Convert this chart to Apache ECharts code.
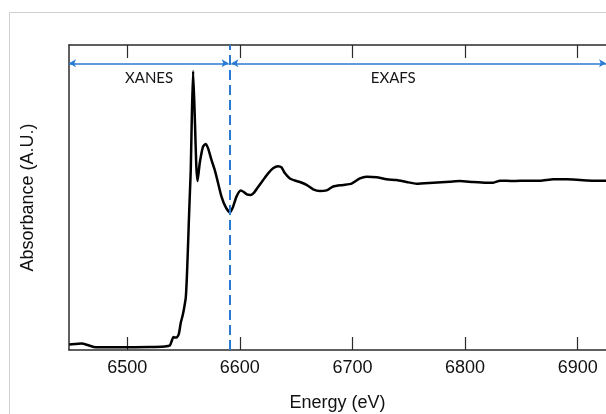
<!DOCTYPE html>
<html><head><meta charset="utf-8">
<script src="https://cdn.jsdelivr.net/npm/echarts@6/dist/echarts.min.js"></script>
<style>html,body{margin:0;padding:0;background:#fff}#c{width:606px;height:414px}</style>
</head><body><div id="c"></div>
<script>
const energy = [6448.5, 6453.4, 6459.6, 6464.9, 6470.2, 6475.6, 6493.3, 6520, 6533.3, 6537.8, 6539.5, 6540.9, 6542.2, 6544, 6545.8, 6547.5, 6549.3, 6550.6, 6552, 6552.9, 6553.8, 6554.6, 6555.5, 6556.4, 6557.3, 6558.5, 6560.2, 6561.3, 6562.4, 6564.4, 6567.3, 6569.5, 6571.8, 6574.8, 6577.7, 6580.7, 6583.7, 6587.2, 6591.1, 6594, 6597, 6600.8, 6603.5, 6606.2, 6609.7, 6612.4, 6616.2, 6620.7, 6625.1, 6629.5, 6634, 6637, 6639.9, 6644.4, 6648.8, 6653.3, 6659.2, 6665.1, 6671, 6677, 6682.9, 6691.7, 6699.2, 6706.6, 6712.5, 6721.4, 6730.3, 6739.2, 6748.1, 6757, 6771.7, 6786.5, 6795.4, 6807.2, 6819.1, 6825, 6831, 6842.8, 6854.7, 6866.5, 6878.3, 6890.2, 6902, 6913.9, 6925.1];
const absorbance = [0.032, 0.035, 0.038, 0.029, 0.018, 0.016, 0.016, 0.018, 0.021, 0.026, 0.053, 0.076, 0.074, 0.074, 0.094, 0.159, 0.206, 0.250, 0.310, 0.420, 0.580, 0.735, 0.9, 1.059, 1.353, 1.641, 1.324, 1.088, 0.994, 1.1, 1.196, 1.212, 1.186, 1.118, 1.059, 0.981, 0.902, 0.843, 0.809, 0.843, 0.902, 0.938, 0.929, 0.915, 0.912, 0.924, 0.959, 1.0, 1.039, 1.069, 1.081, 1.074, 1.041, 1.009, 0.997, 0.988, 0.971, 0.945, 0.935, 0.939, 0.962, 0.971, 0.979, 1.009, 1.019, 1.016, 1.004, 1.0, 0.988, 0.978, 0.984, 0.99, 0.994, 0.988, 0.984, 0.984, 0.996, 0.994, 0.996, 0.996, 1.004, 1.004, 1.0, 0.996, 0.996];
const tickValues = [6500, 6600, 6700, 6800, 6900];
const xRange = [6448.3, 6925.1];
const yRange = [0, 1.794];
const edgeEnergy = 6591;
const arrowLevel = 1.686;
const regionNames = ['XANES', 'EXAFS'];
const regionLabelX = [6519.4, 6736.2];
const regionLabelY = [1.60, 1.60];

const blue = '#2a7ad3';
const axisColor = '#2b2b2b';
const chart = echarts.init(document.getElementById('c'), null, {renderer: 'canvas'});
const seriesData = energy.map((e, i) => [e, absorbance[i]]);

chart.setOption({
  animation: false,
  backgroundColor: '#fff',
  grid: {left: 69, right: 0, top: 45, bottom: 64, containLabel: false, outerBoundsMode: 'none'},
  graphic: [{
    type: 'rect', silent: true, z: -1,
    shape: {x: 9.5, y: 12.5, width: 700, height: 500},
    style: {fill: 'none', stroke: '#cfcfcf', lineWidth: 1}
  }],
  xAxis: [{
    type: 'value', position: 'bottom', min: xRange[0], max: xRange[1],
    name: 'Energy (eV)', nameLocation: 'middle', nameGap: 44,
    nameTextStyle: {fontFamily: 'Liberation Sans', fontSize: 18, color: '#111'},
    axisLine: {show: true, onZero: false, lineStyle: {color: axisColor, width: 1.5}},
    axisTick: {show: true, inside: true, length: 13, customValues: tickValues, lineStyle: {color: axisColor, width: 1.2}},
    axisLabel: {show: true, customValues: tickValues, formatter: v => String(v), margin: 9, fontFamily: 'Liberation Sans', fontSize: 18, color: '#111'},
    splitLine: {show: false}
  }, {
    type: 'value', position: 'top', min: xRange[0], max: xRange[1],
    axisLine: {show: true, onZero: false, lineStyle: {color: axisColor, width: 1.5}},
    axisTick: {show: true, inside: true, length: 13, customValues: tickValues, lineStyle: {color: axisColor, width: 1.2}},
    axisLabel: {show: false},
    splitLine: {show: false}
  }],
  yAxis: {
    type: 'value', min: yRange[0], max: yRange[1],
    name: 'Absorbance (A.U.)', nameLocation: 'middle', nameGap: 32, nameRotate: 90,
    nameTextStyle: {fontFamily: 'Liberation Sans', fontSize: 18, color: '#111'},
    axisLine: {show: true, onZero: false, lineStyle: {color: axisColor, width: 1.5}},
    axisTick: {show: false}, axisLabel: {show: false}, splitLine: {show: false}
  },
  series: [{
    type: 'line', data: seriesData, xAxisIndex: 0, showSymbol: false, smooth: 0.2,
    lineStyle: {color: '#000', width: 2.5, join: 'round'},
    z: 3,
    markLine: {
      silent: true, animation: false,
      label: {show: false},
      data: [
        [{xAxis: edgeEnergy, yAxis: yRange[0], symbol: 'none', lineStyle: {color: blue, width: 2, type: [10, 5]}},
         {xAxis: edgeEnergy, yAxis: yRange[1], symbol: 'none'}],
        [{coord: [xRange[0], arrowLevel], symbol: 'arrow', symbolSize: [6, 7], lineStyle: {color: blue, width: 1.6, type: 'solid'}},
         {coord: [edgeEnergy - 1, arrowLevel], symbol: 'arrow', symbolSize: [6, 7]}],
        [{coord: [edgeEnergy + 1.5, arrowLevel], symbol: 'arrow', symbolSize: [6, 7], lineStyle: {color: blue, width: 1.6, type: 'solid'}},
         {coord: [xRange[1], arrowLevel], symbol: 'arrow', symbolSize: [6, 7]}]
      ],
      itemStyle: {color: blue}
    },
    markPoint: {
      silent: true, animation: false,
      symbol: 'rect', symbolSize: [1, 1],
      itemStyle: {color: 'rgba(0,0,0,0)'},
      label: {show: true, position: 'inside', fontFamily: 'Lato', fontSize: 15, color: '#151515'},
      data: regionNames.map((n, i) => ({coord: [regionLabelX[i], regionLabelY[i]], value: n, label: {formatter: n}}))
    }
  }]
});
</script>
</body></html>
